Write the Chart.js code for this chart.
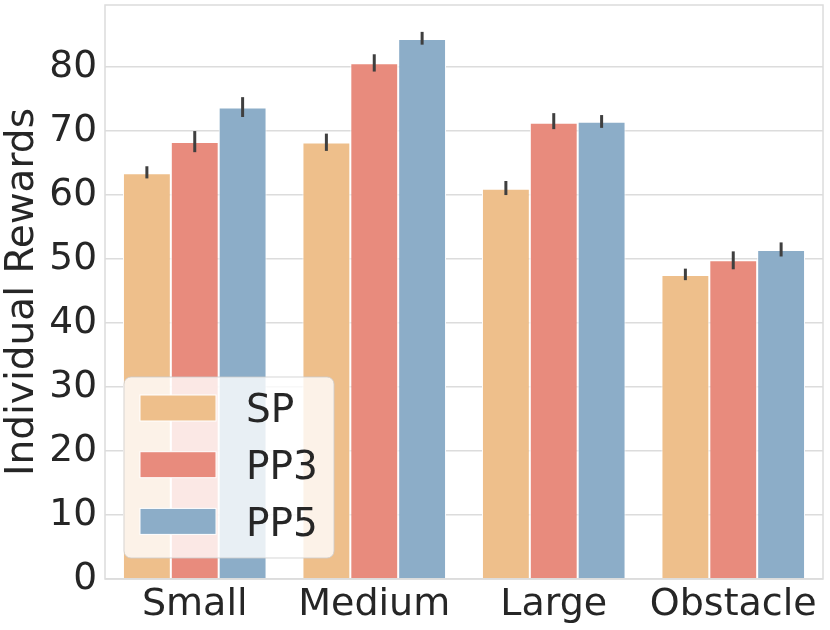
<!DOCTYPE html>
<html>
<head>
<meta charset="utf-8">
<script src="https://cdn.jsdelivr.net/npm/chart.js@4"></script>
<style>
  html, body { margin: 0; padding: 0; background: #ffffff; }
  #wrap { width: 830px; height: 630px; }
</style>
</head>
<body>
<div id="wrap"><canvas id="c" width="830" height="630"></canvas></div>
<script>
const categories = ['Small', 'Medium', 'Large', 'Obstacle'];
const seriesNames = ['SP', 'PP3', 'PP5'];
const spValues  = [63.4, 68.2, 61.0, 47.5];
const pp3Values = [68.3, 80.6, 71.3, 49.8];
const pp5Values = [73.7, 84.4, 71.45, 51.4];
const spErrLow   = [62.6, 66.9, 60.0, 46.7];
const spErrHigh  = [64.5, 69.6, 62.2, 48.5];
const pp3ErrLow  = [66.7, 79.3, 70.3, 48.4];
const pp3ErrHigh = [70.0, 82.0, 72.8, 51.2];
const pp5ErrLow  = [72.2, 83.5, 70.5, 50.4];
const pp5ErrHigh = [75.3, 85.5, 72.5, 52.6];
const yTicks = [0, 10, 20, 30, 40, 50, 60, 70, 80];

const colors = ['rgb(238,191,139)', 'rgb(232,139,125)', 'rgb(140,173,200)'];
const FONT = "'DejaVu Sans', sans-serif";
const TXT = '#262626';
const GRID = '#dcdcdc';

const errLow = [spErrLow, pp3ErrLow, pp5ErrLow];
const errHigh = [spErrHigh, pp3ErrHigh, pp5ErrHigh];
const values = [spValues, pp3Values, pp5Values];

const frameAndErrors = {
  id: 'frameAndErrors',
  afterDatasetsDraw(chart) {
    const ctx = chart.ctx;
    const y = chart.scales.y;
    ctx.save();
    ctx.strokeStyle = '#3f3f3f';
    ctx.lineWidth = 3;
    ctx.lineCap = 'butt';
    chart.data.datasets.forEach((ds, di) => {
      const meta = chart.getDatasetMeta(di);
      meta.data.forEach((bar, i) => {
        ctx.beginPath();
        ctx.moveTo(bar.x, y.getPixelForValue(errLow[di][i]));
        ctx.lineTo(bar.x, y.getPixelForValue(errHigh[di][i]));
        ctx.stroke();
      });
    });
    const a = chart.chartArea;
    ctx.strokeStyle = GRID;
    ctx.lineWidth = 1.5;
    ctx.strokeRect(a.left, a.top, a.right - a.left, a.bottom - a.top);
    ctx.restore();
  },
  afterDraw(chart) {
    const ctx = chart.ctx;
    ctx.save();
    const bx = 124, by = 377, bw = 210, bh = 181, r = 7;
    ctx.beginPath();
    ctx.moveTo(bx + r, by);
    ctx.arcTo(bx + bw, by, bx + bw, by + bh, r);
    ctx.arcTo(bx + bw, by + bh, bx, by + bh, r);
    ctx.arcTo(bx, by + bh, bx, by, r);
    ctx.arcTo(bx, by, bx + bw, by, r);
    ctx.closePath();
    ctx.fillStyle = 'rgba(255,255,255,0.8)';
    ctx.fill();
    ctx.strokeStyle = 'rgba(204,204,204,0.8)';
    ctx.lineWidth = 1;
    ctx.stroke();
    ctx.font = '39px ' + FONT;
    ctx.textBaseline = 'alphabetic';
    ctx.textAlign = 'left';
    chart.data.datasets.forEach((ds, di) => {
      const cy = 408 + di * 56.7;
      ctx.fillStyle = ds.backgroundColor;
      ctx.fillRect(140, cy - 13, 76, 26);
      ctx.strokeStyle = '#ffffff';
      ctx.lineWidth = 1;
      ctx.strokeRect(140, cy - 13, 76, 26);
      ctx.fillStyle = TXT;
      ctx.fillText(ds.label, 246, cy + 14.3);
    });
    ctx.restore();
  }
};

new Chart(document.getElementById('c'), {
  type: 'bar',
  data: {
    labels: categories,
    datasets: seriesNames.map((n, i) => ({
      label: n,
      data: values[i],
      backgroundColor: colors[i],
      borderColor: '#ffffff',
      borderWidth: 1,
      categoryPercentage: 0.8,
      barPercentage: 1.0
    }))
  },
  options: {
    responsive: false,
    animation: false,
    devicePixelRatio: 1,
    layout: { padding: { top: 5, right: 7, left: 0, bottom: 0 } },
    plugins: { legend: { display: false }, tooltip: { enabled: false } },
    scales: {
      x: {
        grid: { display: false, drawTicks: false },
        border: { display: false },
        ticks: { color: TXT, font: { family: FONT, size: 38 }, padding: 3, maxRotation: 0 },
        afterFit(s) { s.height = 51; s.paddingLeft = 0; s.paddingRight = 0; }
      },
      y: {
        min: 0,
        max: 89.7,
        grid: { color: GRID, lineWidth: 1.5, drawTicks: false },
        border: { display: false },
        ticks: { color: TXT, font: { family: FONT, size: 37.5 }, padding: 8, stepSize: 10 },
        afterBuildTicks(s) { s.ticks = yTicks.map(v => ({ value: v })); },
        title: {
          display: true,
          text: 'Individual Rewards',
          color: TXT,
          font: { family: FONT, size: 39, lineHeight: 1 },
          padding: { top: 3, bottom: 0 }
        },
        afterFit(s) { s.width = 105; s.paddingTop = 0; s.paddingBottom = 0; }
      }
    }
  },
  plugins: [frameAndErrors]
});
</script>
</body>
</html>
